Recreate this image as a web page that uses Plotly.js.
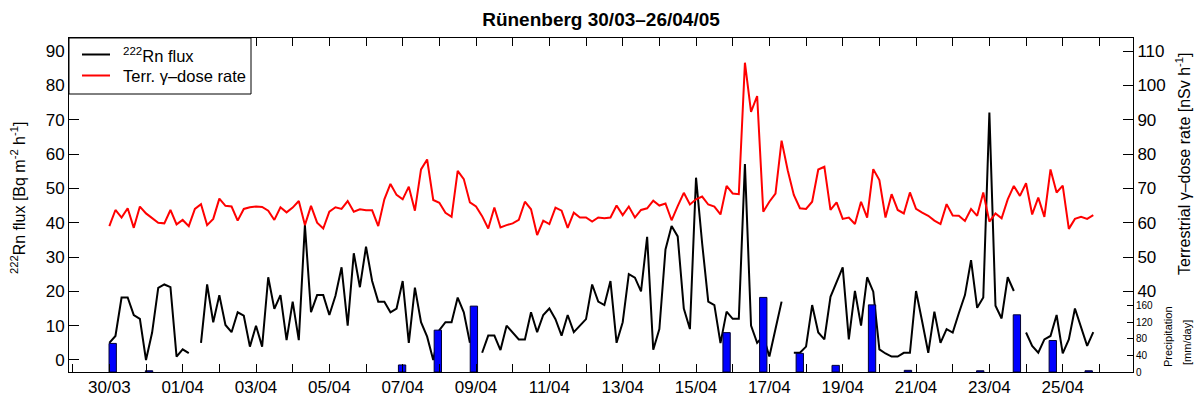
<!DOCTYPE html>
<html>
<head>
<meta charset="utf-8">
<script src="https://cdn.plot.ly/plotly-3.0.1.min.js"></script>
<style>html,body{margin:0;padding:0;background:#fff}#chart{width:1200px;height:401px}</style>
</head>
<body>
<div id="chart"></div>
<script>
// ---- data ----
const seriesStart = '2005-03-30 00:00';   // first sample time
const stepHours = 4;                      // sampling interval

// 222Rn flux [Bq m-2 h-1], one value every 4 h (null = no data)
const rnFlux = [
  5.0, 7.0, 18.2, 18.2, 13.1, 12.0, 0.0, 8.0, 21.0, 22.0, 21.2, 1.0, 3.1, 2.0, null,
  5.0, 22.0, 11.0, 18.9, 10.2, 8.1, 13.9, 12.9, 3.9, 10.0, 3.9, 24.1, 14.9, 18.9, 5.8,
  17.0, 5.8, 39.3, 13.9, 18.9, 18.9, 13.1, 18.7, 27.0, 10.0, 31.1, 21.2, 33.0, 23.0, 17.0,
  17.0, 13.9, 15.0, 23.0, 5.0, 21.1, 11.0, 6.8, 0.0, 8.7, 11.0, 11.0, 18.2, 13.9, 5.0,
  null, 2.1, 7.1, 7.1, 2.9, 10.0, 8.1, 6.0, 6.0, 13.9, 8.1, 13.1, 15.0, 11.9, 7.1,
  13.1, 8.1, 10.0, 11.9, 22.0, 17.0, 16.0, 23.0, 5.0, 11.0, 25.0, 24.0, 20.0, 35.9, 3.0,
  9.0, 32.2, 39.0, 36.0, 15.0, 9.0, 53.1, 34.0, 17.0, 16.0, 4.9, 14.1, 12.0, 12.0, 57.1,
  10.0, 5.0, 7.0, 1.0, 9.0, 17.0, null, 2.1, 2.1, 3.9, 16.0, 8.0, 6.0, 18.4, 22.8,
  27.0, 6.0, 20.1, 10.0, 24.1, 19.9, 3.1, 1.9, 1.0, 1.0, 2.1, 2.1, 20.1, 11.2, 2.1,
  14.1, 5.0, 9.0, 8.0, 13.6, 18.9, 29.1, 15.2, 18.2, 72.1, 15.8, 12.1, 24.1, 20.1, null,
  8.0, 4.1, 2.1, 6.0, 7.0, 13.1, 1.9, 6.0, 15.0, 9.5, 4.1, 8.1
];

// Terrestrial gamma-dose rate [nSv h-1], same time steps
const gammaDose = [
  59.0, 63.7, 61.5, 64.2, 58.5, 64.7, 62.7, 61.3, 60.0, 59.8, 63.7, 59.5, 60.8, 59.0, 64.0,
  65.4, 59.3, 61.1, 67.0, 64.9, 64.7, 60.6, 64.0, 64.5, 64.7, 64.6, 63.5, 60.8, 64.5, 63.0,
  64.4, 66.3, 59.3, 64.9, 60.0, 58.3, 63.2, 64.5, 64.0, 66.3, 63.2, 63.9, 63.6, 63.6, 59.0,
  66.8, 71.3, 68.1, 66.8, 70.5, 63.5, 75.5, 78.4, 66.6, 65.8, 62.9, 61.7, 75.1, 72.7, 65.9,
  64.7, 61.9, 58.3, 64.4, 58.6, 59.3, 59.8, 60.8, 66.1, 63.9, 56.4, 60.6, 59.6, 64.4, 63.5,
  58.5, 62.9, 61.5, 61.5, 60.3, 61.5, 61.3, 61.5, 65.0, 62.2, 64.7, 61.5, 63.7, 64.2, 66.4,
  65.0, 65.6, 60.7, 64.8, 68.7, 65.3, 66.8, 67.6, 65.3, 64.7, 62.4, 70.7, 68.5, 68.3, 106.6,
  92.3, 96.9, 63.2, 66.1, 68.5, 83.9, 75.3, 68.1, 64.2, 64.0, 66.1, 75.5, 76.3, 63.7, 65.9,
  61.1, 61.5, 59.6, 66.1, 61.5, 75.6, 72.4, 61.5, 68.3, 63.7, 62.7, 68.8, 64.0, 62.9, 62.0,
  60.6, 59.6, 65.4, 62.1, 62.0, 60.5, 64.0, 62.0, 68.8, 60.3, 62.7, 61.3, 66.8, 70.7, 67.8,
  71.5, 62.4, 67.3, 61.7, 75.5, 68.8, 70.8, 58.2, 61.1, 61.7, 61.1, 62.2
];

// Daily precipitation [mm/day]
const precipTimes = [
  '2005-03-30 02:12', '2005-03-31 02:00', '2005-04-06 23:36', '2005-04-07 23:00',
  '2005-04-08 22:36', '2005-04-15 20:00', '2005-04-16 20:00', '2005-04-17 19:54',
  '2005-04-18 19:24', '2005-04-19 19:12', '2005-04-20 18:42', '2005-04-22 18:00',
  '2005-04-23 18:00', '2005-04-24 17:30', '2005-04-25 17:00'
];
const precipValues = [69, 3, 17, 101, 159, 95, 180, 45, 16, 162, 4, 3, 138, 76, 3];

const rnTicks = [0, 10, 20, 30, 40, 50, 60, 70, 80, 90];
const gammaTicks = [40, 50, 60, 70, 80, 90, 100, 110];
const precipTicks = [0, 40, 80, 120, 160];

const seriesNames = ['<sup>222</sup>Rn flux', 'Terr. γ–dose rate'];
const seriesColors = ['#000000', '#ff0000'];

// ---- build ----
function parseT(s) {
  const [d, t] = s.split(' ');
  const [Y, M, D] = d.split('-').map(Number);
  const [h, m] = t.split(':').map(Number);
  return Date.UTC(Y, M - 1, D, h, m);
}
const t0 = parseT(seriesStart);
const sampleTimes = rnFlux.map((_, k) => t0 + k * stepHours * 3600e3);
const barTimes = precipTimes.map(parseT);

const F = 'Liberation Sans, Arial, Helvetica, sans-serif';

const traces = [
  {x: sampleTimes, y: rnFlux, type: 'scatter', mode: 'lines', name: seriesNames[0],
   line: {color: seriesColors[0], width: 2}, yaxis: 'y', connectgaps: false},
  {x: sampleTimes, y: gammaDose, type: 'scatter', mode: 'lines', name: seriesNames[1],
   line: {color: seriesColors[1], width: 2}, yaxis: 'y2', connectgaps: false},
  {x: barTimes, y: precipValues, type: 'bar', name: 'Precipitation',
   width: 0.2 * 86400000, marker: {color: '#0000ff', line: {color: '#000033', width: 1}}, yaxis: 'y3'}
];

const axisCommon = {showgrid: false, zeroline: false, showline: true, linecolor: '#000', linewidth: 1,
  ticks: 'inside', tickcolor: '#000', tickwidth: 1};

// plot-area pixel helpers for the legend box / titles placement (paper coords)
const PL = 69, PR = 1133, PT = 38, PB = 372;
const px = v => (v - PL) / (PR - PL);
const py = v => (PB - v) / (PB - PT);

const legendRows = [54.5, 75.5];
const shapes = [
  {type: 'rect', xref: 'paper', yref: 'paper', x0: 0, x1: px(251), y0: py(94), y1: 1,
   line: {color: '#000', width: 1}, fillcolor: '#fff', layer: 'above'}
];
const annotations = [];
seriesNames.forEach((n, i) => {
  shapes.push({type: 'line', xref: 'paper', yref: 'paper', x0: px(82), x1: px(110),
    y0: py(legendRows[i]), y1: py(legendRows[i]), line: {color: seriesColors[i], width: 2}, layer: 'above'});
  annotations.push({text: n, xref: 'paper', yref: 'paper', x: px(121), y: py(legendRows[i]),
    xanchor: 'left', yanchor: 'middle', showarrow: false, font: {family: F, size: 16.5, color: '#000'}});
});

annotations.push(
  {text: '<sup>222</sup>Rn flux [Bq m<sup>-2</sup> h<sup>-1</sup>]', xref: 'paper', yref: 'paper',
   x: px(18), y: py(198), xanchor: 'center', yanchor: 'middle',
   textangle: -90, showarrow: false, font: {family: F, size: 16}},
  {text: 'Terrestrial γ–dose rate [nSv h<sup>-1</sup>]', xref: 'paper', yref: 'paper',
   x: px(1183), y: py(164), xanchor: 'center', yanchor: 'middle',
   textangle: -90, showarrow: false, font: {family: F, size: 16}},
  {text: 'Precipitation', xref: 'paper', yref: 'paper',
   x: px(1168), y: py(337), xanchor: 'center', yanchor: 'middle',
   textangle: -90, showarrow: false, font: {family: F, size: 11}},
  {text: '[mm/day]', xref: 'paper', yref: 'paper',
   x: px(1187), y: py(343), xanchor: 'center', yanchor: 'middle',
   textangle: -90, showarrow: false, font: {family: F, size: 11}}
);

const layout = {
  width: 1200, height: 401,
  margin: {l: PL, r: 1200 - PR, t: PT, b: 401 - PB, pad: 0},
  paper_bgcolor: '#ffffff', plot_bgcolor: '#ffffff',
  font: {family: F, size: 17, color: '#000'},
  title: {text: '<b>Rünenberg 30/03–26/04/05</b>', x: 0.5, xref: 'paper', xanchor: 'center',
          y: 1 - 19 / 401, yanchor: 'middle', font: {family: F, size: 19, color: '#000'}},
  showlegend: false,
  bargap: 0,
  xaxis: Object.assign({}, axisCommon, {
    type: 'date', range: ['2005-03-28 21:36', '2005-04-26 22:00'],
    tickformat: '%d/%m', tick0: '2005-03-30', dtick: 2 * 86400000,
    ticklen: 8, mirror: 'ticks', tickfont: {size: 17},
    minor: {tick0: '2005-03-30', dtick: 86400000, ticks: 'inside', ticklen: 8, tickcolor: '#000', showgrid: false}
  }),
  yaxis: Object.assign({}, axisCommon, {
    range: [-3.5, 93.8], tickvals: rnTicks, ticklen: 10, mirror: false, tickfont: {size: 17}
  }),
  yaxis2: Object.assign({}, axisCommon, {
    overlaying: 'y', side: 'right', anchor: 'x', range: [16.5, 113.8], tickvals: gammaTicks,
    ticklen: 10, tickfont: {size: 17}
  }),
  yaxis3: Object.assign({}, axisCommon, {
    overlaying: 'y', side: 'right', anchor: 'x', range: [0, 806], tickvals: precipTicks,
    ticklen: 6, tickfont: {size: 10}
  }),
  shapes: shapes,
  annotations: annotations
};

Plotly.newPlot('chart', traces, layout, {displayModeBar: false, staticPlot: true});
</script>
</body>
</html>
